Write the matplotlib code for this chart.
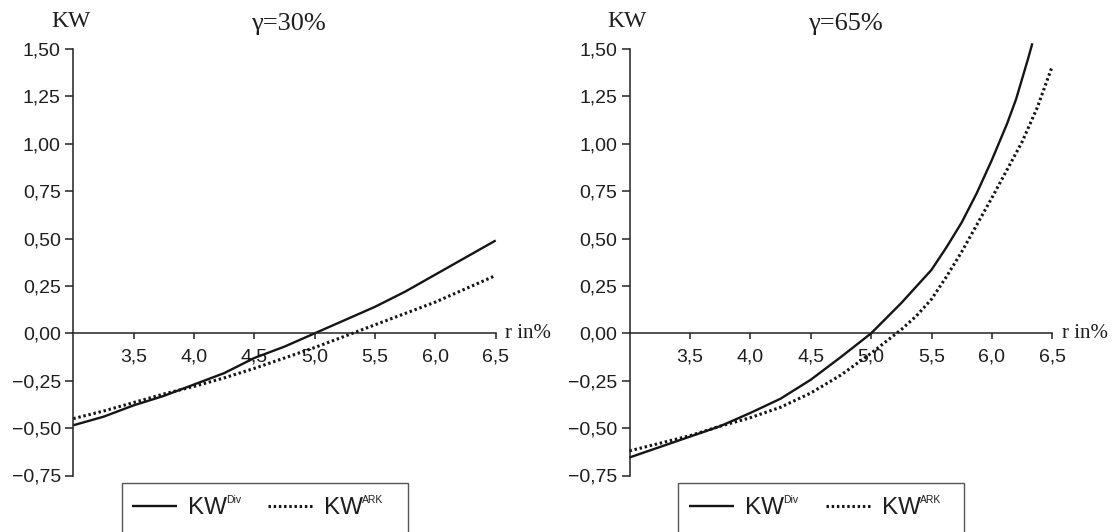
import matplotlib
matplotlib.use("Agg")
import matplotlib.pyplot as plt
import matplotlib.transforms as mtransforms
from matplotlib.patches import Rectangle
from matplotlib.ticker import FuncFormatter, FixedLocator

plt.rcParams['font.family'] = ['Liberation Sans', 'DejaVu Sans']

# ---------------- data ----------------
r_30 = [3.0, 3.25, 3.5, 3.75, 4.0, 4.25, 4.5, 4.75, 5.0, 5.25, 5.5, 5.75, 6.0, 6.25, 6.5]
kw_div_30 = [-0.485, -0.44, -0.38, -0.33, -0.27, -0.21, -0.13, -0.07, 0.0, 0.07,
             0.14, 0.22, 0.31, 0.40, 0.49]
kw_ark_30 = [-0.45, -0.41, -0.365, -0.32, -0.28, -0.235, -0.185, -0.13, -0.075,
             -0.015, 0.045, 0.105, 0.165, 0.235, 0.305]

r_65_div = [3.0, 3.25, 3.5, 3.75, 4.0, 4.25, 4.5, 4.75, 5.0, 5.25, 5.5, 5.625, 5.75,
            5.875, 6.0, 6.125, 6.2, 6.3, 6.335]
kw_div_65 = [-0.655, -0.60, -0.545, -0.49, -0.42, -0.345, -0.245, -0.125, 0.0,
             0.16, 0.335, 0.455, 0.585, 0.74, 0.915, 1.105, 1.235, 1.45, 1.53]
r_65_ark = [3.0, 3.25, 3.5, 3.75, 4.0, 4.25, 4.5, 4.75, 5.0, 5.25, 5.375, 5.5, 5.625,
            5.75, 6.0, 6.25, 6.375, 6.5]
kw_ark_65 = [-0.62, -0.58, -0.54, -0.49, -0.445, -0.39, -0.315, -0.22, -0.105,
             0.02, 0.092, 0.18, 0.30, 0.43, 0.715, 1.01, 1.19, 1.41]

panels = [
    ("γ=30%", r_30, kw_div_30, r_30, kw_ark_30),
    ("γ=65%", r_65_div, kw_div_65, r_65_ark, kw_ark_65),
]
x_ticks = [3.5, 4.0, 4.5, 5.0, 5.5, 6.0, 6.5]
y_ticks = [-0.75, -0.5, -0.25, 0.0, 0.25, 0.5, 0.75, 1.0, 1.25, 1.5]
legend_labels = ["KW", "KW"]
legend_sups = ["Div", "ARK"]

# ---------------- figure ----------------
W, H = 1112, 532
fig = plt.figure(figsize=(W / 100, H / 100), dpi=100)
fig.patch.set_facecolor("white")

axes_px = [(73.3, 495.7), (629.5, 1052.3)]
legend_box_px = [(122.0, 408.0), (677.7, 964.0)]
legend_start_px = [132.0, 689.3]
top_px, bot_px = 49.0, 475.5

line_col = "#151515"
spine_col = "#222222"
text_col = "#1e1e1e"
serif = ['Liberation Serif', 'DejaVu Serif']


def fmt(v, pos=None, nd=2):
    s = f"{v:.{nd}f}".replace('.', ',')
    return s.replace('-', '\u2212')


legends = []
for i, (title, xd, yd, xa, ya) in enumerate(panels):
    x0, x1 = axes_px[i]
    ax = fig.add_axes([x0 / W, (H - bot_px) / H, (x1 - x0) / W, (bot_px - top_px) / H])
    ax.set_xlim(3.0, 6.5)
    ax.set_ylim(-0.75, 1.5)
    ax.set_facecolor("none")

    ax.plot(xd, yd, color=line_col, lw=1.7, solid_capstyle='butt', clip_on=False,
            label=legend_labels[0])
    ax.plot(xa, ya, color=line_col, lw=2.2, linestyle=(0, (0.8, 0.9)),
            clip_on=False, label=legend_labels[1])

    for s in ("top", "right"):
        ax.spines[s].set_visible(False)
    ax.spines["bottom"].set_position(("data", 0))
    for s in ("left", "bottom"):
        ax.spines[s].set_color(spine_col)
        ax.spines[s].set_linewidth(1.1)

    ax.xaxis.set_major_locator(FixedLocator(x_ticks))
    ax.yaxis.set_major_locator(FixedLocator(y_ticks))
    ax.xaxis.set_major_formatter(FuncFormatter(lambda v, p: fmt(v, p, 1)))
    ax.yaxis.set_major_formatter(FuncFormatter(lambda v, p: fmt(v, p, 2)))
    ax.tick_params(axis='x', direction='out', length=4, width=1.1, color=spine_col,
                   pad=7.0, labelsize=14, labelcolor=text_col)
    ax.tick_params(axis='y', direction='out', length=6, width=1.1, color=spine_col,
                   pad=3.0, labelsize=14, labelcolor=text_col)

    blend = mtransforms.blended_transform_factory(ax.transAxes, ax.transData)
    ax.annotate("r in%", xy=(1, 0), xycoords=blend, xytext=(7.0, 0),
                textcoords='offset points', ha='left', va='center',
                fontsize=15, family=serif, color=text_col)
    ax.annotate("KW", xy=(0, 1), xycoords='axes fraction', xytext=(-1.5, 20),
                textcoords='offset points', ha='center', va='center',
                fontsize=17, family=serif, color=text_col)
    ax.annotate(title, xy=(0.5, 1), xycoords='axes fraction', xytext=(3, 18),
                textcoords='offset points', ha='center', va='center',
                fontsize=19, family=serif, color=text_col)

    lx = legend_start_px[i] / W
    leg = ax.legend(loc='center left', bbox_to_anchor=(lx, (H - 508.0) / H),
                    bbox_transform=fig.transFigure, ncol=2, frameon=False,
                    fontsize=17.5, handlelength=1.85, handletextpad=0.45,
                    columnspacing=1.71, borderpad=0, borderaxespad=0)
    for t in leg.get_texts():
        t.set_color(text_col)
    legends.append(leg)

    bx0, bx1 = legend_box_px[i]
    rect = Rectangle((bx0 / W, (H - 545) / H), (bx1 - bx0) / W, (545 - 483.3) / H,
                     transform=fig.transFigure, fill=False, edgecolor="#555555",
                     linewidth=1.0)
    fig.patches.append(rect)

# superscripts next to the legend labels
fig.canvas.draw()
renderer = fig.canvas.get_renderer()
for leg in legends:
    for t, sup in zip(leg.get_texts(), legend_sups):
        bb = t.get_window_extent(renderer)
        x_px = bb.x1 - 1.0
        y_px = bb.y1 + 2.0
        fig.text(x_px / W, y_px / H, sup, ha='left', va='top', fontsize=7.5,
                 color=text_col)

fig.savefig("out.png", dpi=100, facecolor="white")
